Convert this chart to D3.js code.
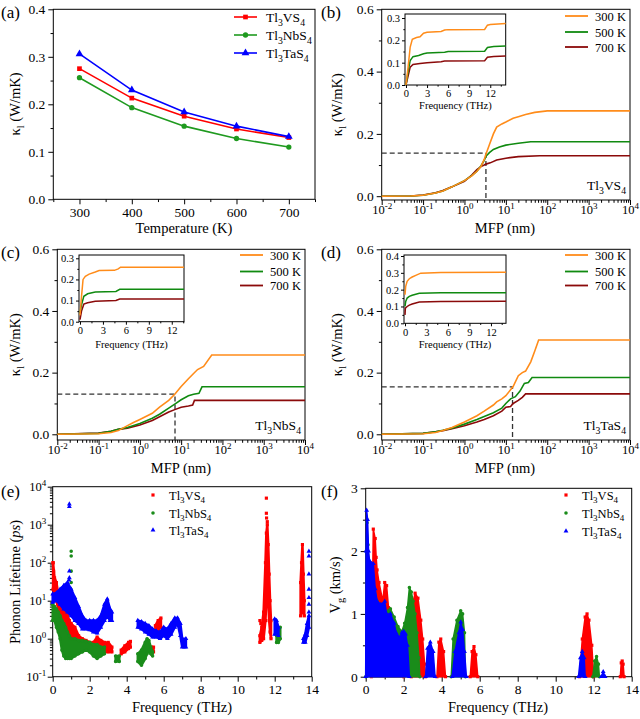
<!DOCTYPE html>
<html><head><meta charset="utf-8">
<script src="https://cdn.jsdelivr.net/npm/d3@7"></script>
<style>body{margin:0;background:#fff}svg{display:block}</style>
</head><body>
<script>
// ---------------- DATA ----------------
// (a) lattice thermal conductivity vs temperature
const temps = [300, 400, 500, 600, 700];
const kappaV  = [0.275, 0.213, 0.175, 0.148, 0.130];
const kappaNb = [0.256, 0.193, 0.154, 0.128, 0.110];
const kappaTa = [0.306, 0.230, 0.184, 0.154, 0.132];
const compounds = ["Tl3VS4", "Tl3NbS4", "Tl3TaS4"];
const tempLabels = ["300 K", "500 K", "700 K"];

// (b) Tl3VS4 cumulative kappa vs MFP [nm, W/mK]
const mfpV300 = [[0.01,0],[0.05,0.0005],[0.1,0.003],[0.2,0.01],[0.3,0.017],[0.5,0.03],[1,0.05],[1.5,0.065],[2,0.08],[2.5,0.095],[3,0.118],[3.3,0.135],[4,0.165],[5,0.2],[6,0.222],[8,0.232],[10,0.238],[15,0.25],[20,0.255],[30,0.262],[50,0.269],[100,0.274],[10000,0.274]];
const mfpV500 = [[0.01,0],[0.05,0.0005],[0.1,0.003],[0.2,0.01],[0.3,0.017],[0.5,0.03],[1,0.05],[1.5,0.066],[2,0.08],[2.5,0.097],[3,0.115],[3.3,0.128],[4,0.14],[5,0.15],[7,0.158],[10,0.164],[20,0.17],[40,0.175],[10000,0.175]];
const mfpV700 = [[0.01,0],[0.05,0.0006],[0.1,0.004],[0.2,0.011],[0.3,0.018],[0.5,0.03],[1,0.048],[1.5,0.068],[2,0.085],[2.5,0.095],[3,0.1],[3.3,0.103],[4.2,0.107],[6,0.116],[10,0.122],[20,0.127],[66,0.13],[10000,0.13]];
const freqV300 = [[0,0],[0.3,0.08],[0.6,0.17],[0.9,0.205],[1.5,0.213],[2,0.216],[2.5,0.232],[3,0.236],[5,0.24],[5.5,0.246],[6,0.248],[11.2,0.249],[11.6,0.268],[12,0.271],[14.2,0.275]];
const freqV500 = [[0,0],[0.3,0.06],[0.6,0.11],[1,0.127],[1.8,0.132],[2.5,0.14],[3,0.143],[5.5,0.147],[6,0.15],[11.2,0.151],[11.6,0.168],[12.5,0.172],[14.2,0.175]];
const freqV700 = [[0,0],[0.3,0.04],[0.6,0.08],[1,0.092],[2,0.096],[3,0.1],[5,0.104],[5.5,0.107],[11.2,0.109],[11.6,0.124],[12.5,0.128],[14.2,0.13]];
const dashV = [3.3, 0.138];

// (c) Tl3NbS4
const mfpNb300 = [[0.01,0],[0.1,0.002],[0.2,0.006],[0.3,0.012],[0.5,0.028],[0.7,0.038],[1,0.048],[2,0.068],[3,0.088],[5,0.11],[7,0.13],[10,0.155],[15,0.18],[20,0.197],[25,0.21],[35,0.22],[55,0.257],[10000,0.257]];
const mfpNb500 = [[0.01,0],[0.1,0.003],[0.2,0.01],[0.3,0.016],[0.5,0.022],[1,0.035],[2,0.052],[3,0.065],[5,0.085],[7,0.098],[10,0.112],[15,0.125],[20,0.13],[27,0.133],[32,0.154],[10000,0.154]];
const mfpNb700 = [[0.01,0],[0.1,0.004],[0.2,0.01],[0.3,0.016],[0.5,0.02],[1,0.03],[2,0.045],[3,0.057],[5,0.072],[7,0.08],[10,0.088],[15,0.092],[19,0.095],[21,0.11],[10000,0.11]];
const freqNb300 = [[0,0.03],[0.2,0.12],[0.4,0.2],[0.7,0.215],[1.2,0.225],[2,0.235],[2.5,0.242],[4.5,0.243],[5,0.25],[5.3,0.258],[13.6,0.258]];
const freqNb500 = [[0,0.04],[0.2,0.08],[0.5,0.12],[1,0.132],[2,0.14],[4.7,0.143],[5.2,0.153],[13.6,0.153]];
const freqNb700 = [[0,0.01],[0.2,0.05],[0.5,0.083],[1,0.09],[2,0.097],[4.7,0.1],[5.2,0.107],[13.6,0.107]];
const dashNb = [7.1, 0.13];

// (d) Tl3TaS4
const mfpTa300 = [[0.01,0],[0.1,0.002],[0.2,0.006],[0.3,0.012],[0.5,0.022],[1,0.04],[2,0.06],[3,0.075],[5,0.095],[6,0.105],[8,0.115],[10,0.125],[15,0.155],[20,0.19],[25,0.2],[30,0.205],[40,0.235],[50,0.27],[62,0.306],[10000,0.306]];
const mfpTa500 = [[0.01,0],[0.1,0.003],[0.2,0.008],[0.3,0.013],[0.5,0.02],[1,0.033],[2,0.048],[3,0.058],[5,0.07],[8,0.085],[10,0.1],[13,0.115],[17,0.122],[22,0.14],[28,0.165],[35,0.168],[43,0.184],[10000,0.184]];
const mfpTa700 = [[0.01,0],[0.1,0.003],[0.2,0.008],[0.3,0.012],[0.5,0.018],[1,0.028],[2,0.04],[3,0.048],[5,0.06],[8,0.075],[10,0.088],[13,0.09],[15,0.1],[20,0.11],[25,0.12],[30,0.131],[10000,0.131]];
const freqTa300 = [[0,0.17],[0.1,0.22],[0.3,0.25],[0.6,0.265],[1,0.275],[1.5,0.285],[2.2,0.298],[5,0.302],[14.1,0.303]];
const freqTa500 = [[0,0.1],[0.1,0.13],[0.3,0.15],[0.6,0.16],[1,0.167],[2,0.178],[5,0.181],[14.1,0.182]];
const freqTa700 = [[0,0.05],[0.05,0.09],[0.3,0.1],[0.6,0.108],[1,0.115],[2,0.127],[5,0.13],[14.1,0.131]];
const dashTa = [14.5, 0.154];

// (e) phonon lifetime bands [THz, low ps, high ps]
const lifeV = [
  [[0.02,20,100],[0.1,15,40],[0.2,10,30],[0.3,6,15],[0.4,4,10],[0.5,3,7],[0.6,2,6],[0.7,1.5,5],[0.8,1,4],[0.9,0.8,3],[1.0,0.7,2.5],[1.2,0.6,2],[1.4,0.6,1.2],[1.6,0.6,1],[1.8,0.6,0.9],[2.0,0.5,0.8],[2.2,0.5,0.8],[2.4,0.6,1.1],[2.6,0.5,0.9],[2.8,0.45,0.8],[3.0,0.45,0.8],[3.2,0.45,0.6]],
  [[3.7,0.4,0.5],[3.9,0.45,0.65],[4.1,0.55,0.8],[4.2,0.6,0.85]],
  [[5.35,0.4,0.6],[5.45,0.45,0.6]],
  [[5.55,1.5,2.2],[5.7,1.7,3],[5.85,2,3.5]],
  [[11.2,0.8,1.2],[11.3,0.9,2],[11.4,1,5],[11.5,3,100],[11.55,10,600],[11.6,30,1000],[11.65,10,300],[11.7,3,50],[11.75,1.5,10],[11.8,1,3]],
  [[13.4,4,30],[13.45,5,100],[13.5,5,300],[13.55,5,50],[13.6,4,10]]
];
const lifeNb = [
  [[0.0,3,8],[0.1,3,7],[0.2,2,6],[0.3,1.5,5],[0.4,1,4],[0.5,0.5,3],[0.6,0.35,2.5],[0.7,0.3,2],[0.8,0.3,1.5],[0.9,0.3,1.2],[1.0,0.3,1],[1.2,0.35,1],[1.4,0.4,0.9],[1.6,0.45,0.9],[1.8,0.5,0.85],[2.0,0.45,0.8],[2.2,0.35,0.7],[2.4,0.3,0.7],[2.6,0.35,0.6],[2.8,0.4,0.6]],
  [[3.4,0.25,0.35],[3.6,0.25,0.35]],
  [[4.6,0.25,0.4],[4.8,0.2,0.5],[5.0,0.3,0.8],[5.1,0.4,1],[5.2,0.5,0.9],[5.3,0.4,0.6],[5.4,0.35,0.45]],
  [[12.1,0.8,1.2],[12.2,0.8,1.8],[12.3,1,2]]
];
const lifeTa = [
  [[0.0,9,15],[0.2,10,16],[0.4,8,20],[0.6,6,25],[0.8,5,30],[1.0,4,20],[1.2,3,12],[1.4,2.5,7],[1.6,1.8,4],[1.8,1.8,3],[2.0,1.7,3],[2.2,1.5,3],[2.4,1.4,3],[2.6,2,4],[2.8,3,8],[2.95,4,11],[3.1,3,6],[3.2,3,5]],
  [[4.6,2,3],[4.8,1.8,2.8],[5.0,1.5,2.5],[5.2,1.3,2.2],[5.4,1.1,1.8],[5.6,1.1,1.6],[5.8,1,1.5],[6.0,1.2,2],[6.2,1.0,1.8],[6.4,1.3,2.5],[6.6,2,3.5],[6.75,2.5,3.5],[6.9,1.2,2.5],[7.0,0.6,1],[7.2,0.6,1]],
  [[12.0,1.3,3.3],[12.1,1.5,3],[12.2,1.2,2]],
  [[13.55,0.8,1],[13.65,0.8,1.3],[13.75,1.2,2.5],[13.85,2,4]]
];
const lifeSpikeV  = [[11.55,5000],[11.55,2000],[11.56,1500],[11.6,1200],[11.2,3],[11.25,2.5],[0.02,100],[0.05,60]];
const lifeSpikeNb = [[1.0,200],[1.0,150],[1.0,60],[1.0,30],[0.98,20]];
const lifeSpikeTa = [[0.9,3500],[0.9,3000],[0.9,60],[0.9,40],[0.88,35],[13.85,200],[13.85,150],[13.85,50],[13.85,20],[13.85,12],[13.85,8],[13.85,5]];

// (f) group velocity lobes [THz, upper km/s]
const vgV = [
  [[0.3,0],[0.4,2.35],[0.5,2.2],[0.55,1.9],[0.6,1.7],[0.7,1.5],[0.9,1.2],[1.0,1.5],[1.1,1.45],[1.2,1.1],[1.3,1.0],[1.5,0.5],[1.7,0.3],[2.0,0]],
  [[2.4,0],[2.5,1.2],[2.6,1.33],[2.75,1.25],[2.9,0.9],[3.0,0.6],[3.1,0.2],[3.15,0]],
  [[3.75,0],[3.85,0.55],[3.95,0.6],[4.1,0.4],[4.2,0]],
  [[5.5,0],[5.6,0.4],[5.7,0.48],[5.8,0.35],[5.9,0]],
  [[11.25,0],[11.4,0.6],[11.55,0.95],[11.65,1.0],[11.75,0.9],[11.9,0.5],[12.0,0]],
  [[13.4,0],[13.45,0.22],[13.5,0.25],[13.55,0.2],[13.6,0]]
];
const vgNb = [
  [[0,0],[0.03,2.0],[0.07,2.45],[0.12,2.1],[0.2,1.6],[0.4,1.5],[0.6,1.2],[0.8,1.15],[1.0,1.0],[1.2,1.05],[1.3,1.08],[1.5,0.95],[1.7,0.8],[1.9,0.72],[2.05,0.85],[2.2,1.1],[2.3,1.42],[2.4,1.35],[2.5,1.2],[2.6,1.0],[2.7,0.7],[2.8,0.3],[2.85,0]],
  [[4.5,0],[4.6,0.6],[4.8,0.9],[5.0,1.05],[5.1,1.0],[5.2,0.7],[5.25,0]],
  [[11.95,0],[12.05,0.25],[12.15,0.32],[12.25,0.2],[12.3,0]]
];
const vgTa = [
  [[0,0],[0.02,2.0],[0.05,2.65],[0.1,2.5],[0.15,2.0],[0.2,1.85],[0.4,1.8],[0.5,1.4],[0.6,1.2],[0.8,1.15],[1.0,1.2],[1.1,1.0],[1.3,1.0],[1.5,0.85],[1.6,0.7],[1.8,0.62],[1.9,0.7],[2.0,0.72],[2.1,0.68],[2.2,0.5],[2.3,0]],
  [[3.15,0],[3.25,0.45],[3.4,0.55],[3.55,0.4],[3.65,0]],
  [[4.55,0],[4.7,0.4],[4.9,0.7],[5.0,0.87],[5.1,0.75],[5.2,0.4],[5.3,0]],
  [[11.2,0],[11.3,0.3],[11.4,0.4],[11.5,0.3],[11.55,0]],
  [[12.4,0],[12.5,0.08],[12.6,0]]
];

// ---------------- DRAWING ----------------
const FONT = '"Liberation Serif","Times New Roman",Times,serif';
const C = {red:"#ff0000", green:"#1f9a1f", blue:"#0000ff", orange:"#ff8c1a", dgreen:"#108a10", dred:"#8b0a0a", sgreen:"#1a8c1a"};
const svg = d3.select("body").append("svg").attr("width",640).attr("height",719)
  .style("font-family",FONT);

function rich(t, parts, fs){
  let shift = 0;
  parts.forEach(p=>{
    let s=0, txt=p, size=fs;
    if(p[0]==="_"){s=fs*0.3; txt=p.slice(1); size=fs*0.72;}
    else if(p[0]==="^"){s=-fs*0.42; txt=p.slice(1); size=fs*0.72;}
    const ts=t.append("tspan").attr("font-size",size).text(txt);
    if(s-shift!==0) ts.attr("dy",s-shift);
    shift=s;
  });
  return t;
}
const chemParts = n => n==="Tl3VS4"?["Tl","_3","VS","_4"]:n==="Tl3NbS4"?["Tl","_3","NbS","_4"]:["Tl","_3","TaS","_4"];

function frame(g,x0,y0,x1,y1){
  g.append("rect").attr("x",x0).attr("y",y0).attr("width",x1-x0).attr("height",y1-y0)
   .attr("fill","none").attr("stroke","#000").attr("stroke-width",1);
}
function styleAxis(a,fs){
  a.select(".domain").remove();
  a.attr("font-family",FONT).attr("font-size",fs);
  a.selectAll("line").attr("stroke","#000");
  a.selectAll("text").attr("fill","#000");
}
function linAxes(g,x,y,o){
  const [x0,x1]=x.range(), [y1,y0]=y.range();
  const big=o.tl||5, fs=o.fs||13.5;
  let a=g.append("g").attr("transform",`translate(0,${y1})`)
    .call(d3.axisBottom(x).tickValues(o.xt).tickFormat(o.xf||(d=>d)).tickSize(big).tickPadding(o.pad||3).tickSizeOuter(0));
  styleAxis(a,fs);
  if(o.xm){a=g.append("g").attr("transform",`translate(0,${y1})`).call(d3.axisBottom(x).tickValues(o.xm).tickFormat("").tickSize(big*0.55).tickSizeOuter(0));styleAxis(a,fs);}
  a=g.append("g").attr("transform",`translate(${x0},0)`)
    .call(d3.axisLeft(y).tickValues(o.yt).tickFormat(o.yf||(d=>d)).tickSize(big).tickPadding(o.pad||3).tickSizeOuter(0));
  styleAxis(a,fs);
  if(o.ym){a=g.append("g").attr("transform",`translate(${x0},0)`).call(d3.axisLeft(y).tickValues(o.ym).tickFormat("").tickSize(big*0.55).tickSizeOuter(0));styleAxis(a,fs);}
  frame(g,x0,y0,x1,y1);
}
function logLabels(a, fs){
  a.selectAll(".tick text").each(function(d){
    const e=Math.round(Math.log10(d)); const t=d3.select(this); t.text("");
    rich(t,["10","^"+e],fs);
  });
}
function minorLog(lo,hi){const r=[];for(let e=lo;e<hi;e++)for(let k=2;k<=9;k++)r.push(k*Math.pow(10,e));return r;}
function letter(x,y,s){svg.append("text").attr("x",x).attr("y",y).attr("font-size",17).text(s);}
function ytitle(x,y,parts,fs){const t=svg.append("text").attr("transform",`translate(${x},${y}) rotate(-90)`).attr("text-anchor","middle").attr("font-size",fs);rich(t,parts,fs);}
function xtitle(x,y,s,fs){svg.append("text").attr("x",x).attr("y",y).attr("text-anchor","middle").attr("font-size",fs).text(s);}

// ---- (a)
{
  const g=svg.append("g");
  const x=d3.scaleLinear([250,750],[53.3,315]), y=d3.scaleLinear([0,0.4],[199.3,9.3]);
  linAxes(g,x,y,{xt:[300,400,500,600,700],xm:[250,350,450,550,650,750],yt:[0,0.1,0.2,0.3,0.4],ym:[0.05,0.15,0.25,0.35],yf:d3.format(".1f")});
  const series=[[kappaV,C.red,"square"],[kappaNb,C.green,"circle"],[kappaTa,C.blue,"triangle"]];
  const line=d3.line().x((d,i)=>x(temps[i])).y(d=>y(d));
  const sym={square:d3.symbolSquare,circle:d3.symbolCircle,triangle:d3.symbolTriangle};
  series.forEach(([v,c,m])=>{
    g.append("path").attr("d",line(v)).attr("fill","none").attr("stroke",c).attr("stroke-width",1.6);
    g.selectAll(null).data(v).join("path").attr("transform",(d,i)=>`translate(${x(temps[i])},${y(d)})`)
      .attr("d",d3.symbol().type(sym[m]).size(m==="triangle"?26:22)).attr("fill",c);
  });
  const ly=[17,35,53];
  series.forEach(([v,c,m],i)=>{
    g.append("line").attr("x1",234).attr("x2",257).attr("y1",ly[i]).attr("y2",ly[i]).attr("stroke",c).attr("stroke-width",1.6);
    g.append("path").attr("transform",`translate(245.5,${ly[i]})`).attr("d",d3.symbol().type(sym[m]).size(m==="triangle"?26:22)).attr("fill",c);
    rich(g.append("text").attr("x",266).attr("y",ly[i]+4.5).attr("font-size",13.5),chemParts(compounds[i]),13.5);
  });
  letter(1,18,"(a)");
  xtitle(184,233,"Temperature (K)",14.5);
  ytitle(20,104,["κ","_l"," (W/mK)"],14.5);
}

// ---- MFP panels
function mfpPanel(o){
  const g=svg.append("g");
  const x=d3.scaleLog([1e-2,1e4],[o.x0,o.x1]);
  const y=d3.scaleLinear([o.ymin,0.6],[o.y1,o.y0]);
  let a=g.append("g").attr("transform",`translate(0,${o.y1})`)
    .call(d3.axisBottom(x).tickValues([1e-2,1e-1,1,1e1,1e2,1e3,1e4]).tickSize(5).tickPadding(0.5).tickSizeOuter(0));
  styleAxis(a,12.5); logLabels(a,12.5);
  a=g.append("g").attr("transform",`translate(0,${o.y1})`).call(d3.axisBottom(x).tickValues(minorLog(-2,4)).tickFormat("").tickSize(2.8).tickSizeOuter(0)); styleAxis(a,13.5);
  a=g.append("g").attr("transform",`translate(${o.x0},0)`).call(d3.axisLeft(y).tickValues([0,0.2,0.4,0.6]).tickFormat(d3.format(".1f")).tickSize(5).tickPadding(3).tickSizeOuter(0)); styleAxis(a,13.5);
  a=g.append("g").attr("transform",`translate(${o.x0},0)`).call(d3.axisLeft(y).tickValues([0.1,0.3,0.5]).tickFormat("").tickSize(2.8).tickSizeOuter(0)); styleAxis(a,13.5);
  frame(g,o.x0,o.y0,o.x1,o.y1);
  const line=d3.line().x(d=>x(d[0])).y(d=>y(d[1]));
  const cols=[C.orange,C.dgreen,C.dred];
  g.append("path").attr("d",`M${o.x0},${y(o.dash[1])}H${x(o.dash[0])}V${o.y1}`).attr("fill","none")
    .attr("stroke","#333").attr("stroke-width",1.3).attr("stroke-dasharray","5,3");
  [2,1,0].forEach(i=>g.append("path").attr("d",line(o.mfp[i])).attr("fill","none").attr("stroke",cols[i]).attr("stroke-width",1.6));
  o.ly.forEach((ly,i)=>{
    g.append("line").attr("x1",o.lx).attr("x2",o.lx+23).attr("y1",ly).attr("y2",ly).attr("stroke",cols[i]).attr("stroke-width",1.8);
    g.append("text").attr("x",o.lx+30).attr("y",ly+4.5).attr("font-size",12.5).text(tempLabels[i]);
  });
  rich(g.append("text").attr("x",o.x1-4).attr("y",o.ann).attr("text-anchor","end").attr("font-size",13.5),chemParts(o.name),13.5);
  // inset
  const ix=d3.scaleLinear(o.ixd,[o.ix0,o.ix1]), iy=d3.scaleLinear([0,o.iyTop],[o.iy1,o.iy0]);
  g.append("rect").attr("x",o.ix0).attr("y",o.iy0).attr("width",o.ix1-o.ix0).attr("height",o.iy1-o.iy0).attr("fill","#fff");
  linAxes(g,ix,iy,{xt:[0,3,6,9,12],xm:[1.5,4.5,7.5,10.5,13.5].filter(v=>v<o.ixd[1]),yt:o.iyt,ym:o.iym,yf:d3.format(".1f"),tl:3,fs:10.5,pad:2});
  const il=d3.line().x(d=>ix(d[0])).y(d=>iy(d[1]));
  [2,1,0].forEach(i=>g.append("path").attr("d",il(o.freq[i])).attr("fill","none").attr("stroke",cols[i]).attr("stroke-width",1.5));
  xtitle((o.ix0+o.ix1)/2,o.iftY,"Frequency (THz)",10.5);
  xtitle(o.mfpX,o.mfpY,"MFP (nm)",14.5);
  ytitle(o.ytx,(o.y0+o.y1)/2,["κ","_l"," (W/mK)"],14.5);
}
mfpPanel({x0:381.7,x1:630,y0:9.3,y1:200,ymin:-0.0122,mfp:[mfpV300,mfpV500,mfpV700],freq:[freqV300,freqV500,freqV700],dash:dashV,
  lx:565,ly:[16,32,47],name:"Tl3VS4",ann:190,ix0:405,ix1:505.7,iy0:14,iy1:85,ixd:[-0.14,14.2],iyTop:0.318,iyt:[0,0.1,0.2,0.3],iym:[0.05,0.15,0.25],iftY:109,mfpX:505,mfpY:233,ytx:342});
letter(321,18,"(b)");
mfpPanel({x0:57.3,x1:305,y0:249.3,y1:440,ymin:-0.0185,mfp:[mfpNb300,mfpNb500,mfpNb700],freq:[freqNb300,freqNb500,freqNb700],dash:dashNb,
  lx:240,ly:[255,271.5,285.5],name:"Tl3NbS4",ann:430,ix0:79,ix1:184,iy0:255,iy1:321.7,ixd:[-0.13,13.6],iyTop:0.3156,iyt:[0,0.1,0.2,0.3],iym:[0.05,0.15,0.25],iftY:348,mfpX:181,mfpY:472.5,ytx:20});
letter(1,258,"(c)");
mfpPanel({x0:381.7,x1:630,y0:249.3,y1:440,ymin:-0.0185,mfp:[mfpTa300,mfpTa500,mfpTa700],freq:[freqTa300,freqTa500,freqTa700],dash:dashTa,
  lx:565,ly:[255,271.5,285.5],name:"Tl3TaS4",ann:430,ix0:404,ix1:506,iy0:255,iy1:323.3,ixd:[-0.14,14.1],iyTop:0.406,iyt:[0,0.1,0.2,0.3,0.4],iym:[0.05,0.15,0.25,0.35],iftY:348,mfpX:505,mfpY:472.5,ytx:342});
letter(321,258,"(d)");

// ---- (e)
{
  const g=svg.append("g");
  const x=d3.scaleLinear([0,14],[52.7,311.7]), y=d3.scaleLog([0.1,1e4],[676.7,486.7]);
  let a=g.append("g").attr("transform","translate(0,676.7)").call(d3.axisBottom(x).tickValues(d3.range(0,15,2)).tickSize(5).tickPadding(3).tickSizeOuter(0)); styleAxis(a,13.5);
  a=g.append("g").attr("transform","translate(0,676.7)").call(d3.axisBottom(x).tickValues(d3.range(1,14,2)).tickFormat("").tickSize(2.8).tickSizeOuter(0)); styleAxis(a,13.5);
  a=g.append("g").attr("transform","translate(52.7,0)").call(d3.axisLeft(y).tickValues([0.1,1,10,100,1000,10000]).tickSize(5).tickPadding(1.5).tickSizeOuter(0)); styleAxis(a,12.5); logLabels(a,12.5);
  a=g.append("g").attr("transform","translate(52.7,0)").call(d3.axisLeft(y).tickValues(minorLog(-1,4)).tickFormat("").tickSize(2.8).tickSizeOuter(0)); styleAxis(a,13.5);
  frame(g,52.7,486.7,311.7,676.7);
  const area=d3.area().x(d=>x(d[0])).y0(d=>y(d[1])).y1(d=>y(d[2]));
  const sets=[[lifeV,lifeSpikeV,C.red,d3.symbolSquare],[lifeNb,lifeSpikeNb,C.sgreen,d3.symbolCircle],[lifeTa,lifeSpikeTa,C.blue,d3.symbolTriangle]];
  sets.forEach(([bands,spikes,c,s])=>{
    bands.forEach(b=>{
      g.append("path").attr("d",area(b)).attr("fill",c).attr("stroke",c).attr("stroke-width",2.5).attr("stroke-linejoin","round");
      const pts=b.flatMap(d=>[[d[0],d[1]],[d[0],d[2]]]);
      g.selectAll(null).data(pts).join("path").attr("transform",d=>`translate(${x(d[0])},${y(d[1])})`).attr("d",d3.symbol().type(s).size(10)).attr("fill",c);
    });
    g.selectAll(null).data(spikes).join("path").attr("transform",d=>`translate(${x(d[0])},${y(d[1])})`).attr("d",d3.symbol().type(s).size(10)).attr("fill",c);
  });
  [495,513,530].forEach((ly,i)=>{
    g.append("path").attr("transform",`translate(153,${ly})`).attr("d",d3.symbol().type(sets[i][3]).size(10)).attr("fill",sets[i][2]);
    rich(g.append("text").attr("x",169).attr("y",ly+4.5).attr("font-size",12.5),chemParts(compounds[i]),12.5);
  });
  letter(1,497,"(e)");
  xtitle(182,712,"Frequency (THz)",14.5);
  const t=svg.append("text").attr("transform","translate(20,582) rotate(-90)").attr("text-anchor","middle").attr("font-size",14.5);
  t.append("tspan").text("Phonon Lifetime (");t.append("tspan").attr("font-style","italic").text("ps");t.append("tspan").text(")");
}

// ---- (f)
{
  const g=svg.append("g");
  const x=d3.scaleLinear([0,14],[365.7,631.7]), y=d3.scaleLinear([0,3],[676.7,488.3]);
  linAxes(g,x,y,{xt:d3.range(0,15,2),xm:d3.range(1,14,2),yt:[0,1,2,3],ym:[0.5,1.5,2.5]});
  const area=d3.area().x(d=>x(d[0])).y0(y(0)).y1(d=>y(d[1]));
  const sets=[[vgV,C.red,d3.symbolSquare],[vgNb,C.sgreen,d3.symbolCircle],[vgTa,C.blue,d3.symbolTriangle]];
  sets.forEach(([lobes,c,s])=>{
    lobes.forEach(b=>{
      g.append("path").attr("d",area(b)).attr("fill",c).attr("stroke",c).attr("stroke-width",1.5).attr("stroke-linejoin","round");
      g.selectAll(null).data(b).join("path").attr("transform",d=>`translate(${x(d[0])},${y(d[1])})`).attr("d",d3.symbol().type(s).size(10)).attr("fill",c);
    });
  });
  [495,513,531].forEach((ly,i)=>{
    g.append("path").attr("transform",`translate(566,${ly})`).attr("d",d3.symbol().type(sets[i][2]).size(10)).attr("fill",sets[i][1]);
    rich(g.append("text").attr("x",582).attr("y",ly+4.5).attr("font-size",12.5),chemParts(compounds[i]),12.5);
  });
  letter(321,497,"(f)");
  xtitle(498,712,"Frequency (THz)",14.5);
  ytitle(340,585,["V","_g"," (km/s)"],14.5);
}
</script></body></html>
